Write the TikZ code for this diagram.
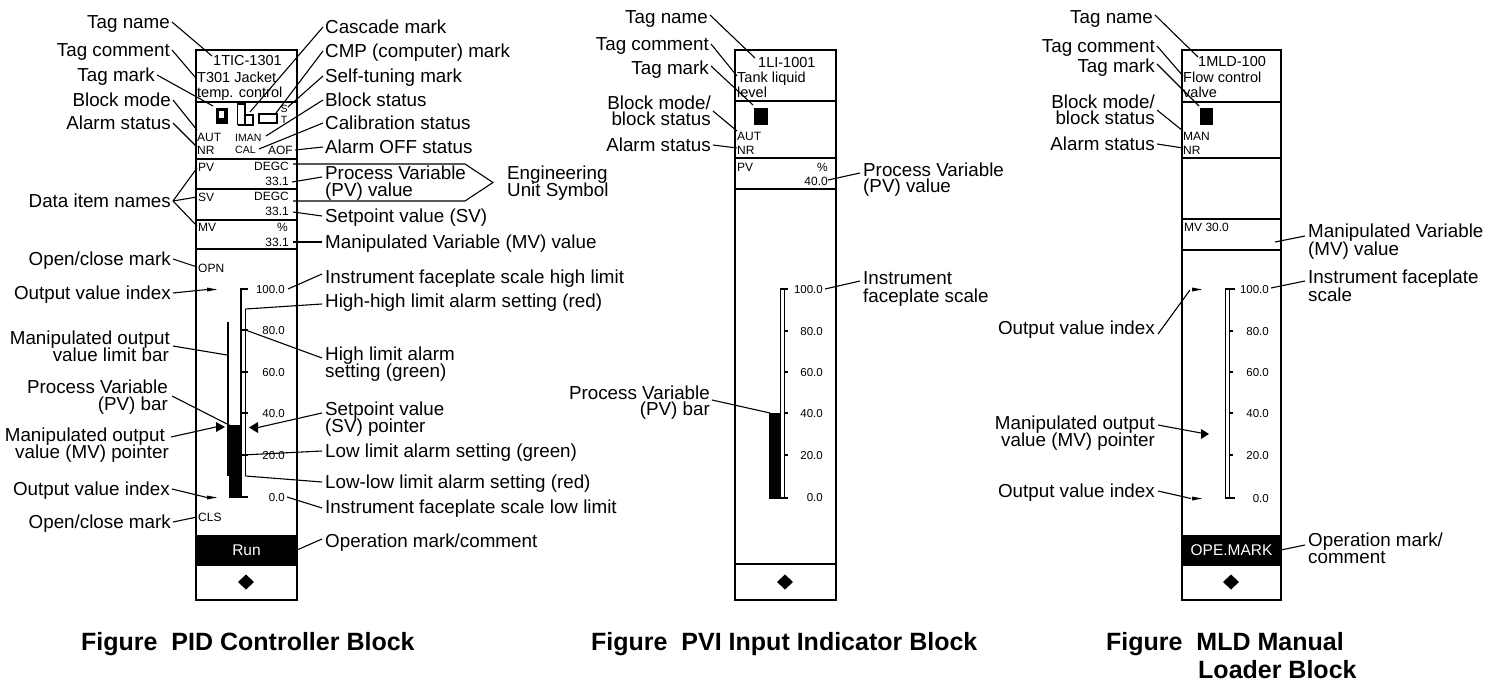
\documentclass[tikz,border=0pt]{standalone}
\usepackage{fontspec}
\setmainfont{Liberation Sans}
\usetikzlibrary{arrows.meta}
\begin{document}
\begin{tikzpicture}[x=1pt,y=-1pt,
  lab/.style={font=\fontsize{18.8}{17}\selectfont, inner sep=0pt, text height=13.5pt, text depth=0pt},
  labL/.style={lab, anchor=west},
  labR/.style={lab, anchor=east},
  hdr/.style={font=\fontsize{14.5}{14}\selectfont, inner sep=0pt, text height=10.4pt, text depth=0pt, anchor=west},
  dat/.style={font=\fontsize{12}{12}\selectfont, inner sep=0pt, text height=8.6pt, text depth=0pt},
  sml/.style={font=\fontsize{10.5}{10}\selectfont, inner sep=0pt, text height=7.5pt, text depth=0pt},
  num/.style={font=\fontsize{11.5}{11}\selectfont, inner sep=0pt, text height=8.3pt, text depth=0pt, anchor=east},
  capt/.style={font=\fontsize{25}{28}\selectfont\bfseries, inner sep=0pt, text height=18pt, text depth=0pt, anchor=west},
  opm/.style={font=\fontsize{15.5}{15}\selectfont, text=white, inner sep=0pt, text height=11.1pt, text depth=0pt},
  lead/.style={line width=1.1pt},
  face/.style={line width=1.8pt},
  divl/.style={line width=1.6pt},
  mk/.style={line width=1.4pt},
]
\useasboundingbox[fill=white] (0,0) rectangle (1497,690);

%================ PID faceplate =================
\draw[face] (196,50) rectangle (297,600);
\foreach \yy in {102,159,189,220,249,565} \draw[divl] (196,\yy) -- (297,\yy);
\fill (196,535) rectangle (297,565);
\node[opm] (pidrun) at (246.5,550) {Run};
\fill (246,574.5) -- (254,582) -- (246,589.5) -- (238,582) -- cycle;
\node[hdr] (pidtag) at (213,60) {1TIC-1301};
\node[hdr] (pidc1) at (197,77) {T301 Jacket};
\node[hdr] (pidc2) at (197,92) {temp. control};
\fill (216,108) rectangle (228,124);
\fill[white] (219,111) rectangle (224,118);
\draw[mk] (237.5,125) -- (237.5,104) -- (245,104) -- (245,125);
\draw[mk] (245,115) rectangle (253,125);
\draw[mk] (237.5,125) -- (253,125);
\draw[mk] (259,114) rectangle (277,123);
\node[sml] (pidS) at (284,109) {S};
\node[sml] (pidT) at (284,120) {T};
\node[dat,anchor=west] (pidaut) at (197,137) {AUT};
\node[dat,anchor=west] (pidnr) at (197,150) {NR};
\node[sml,anchor=west] (pidiman) at (235,138) {IMAN};
\node[sml,anchor=west] (pidcal) at (235,150) {CAL};
\node[dat,anchor=east] (pidaof) at (293,150) {AOF};
\node[dat,anchor=west] (pidpv) at (198,167) {PV};
\node[dat,anchor=east] (pidpvu) at (289,166) {DEGC};
\node[dat,anchor=east] (pidpvv) at (289,181) {33.1};
\node[dat,anchor=west] (pidsv) at (198,197) {SV};
\node[dat,anchor=east] (pidsvu) at (289,196) {DEGC};
\node[dat,anchor=east] (pidsvv) at (289,211) {33.1};
\node[dat,anchor=west] (pidmv) at (198,227) {MV};
\node[dat,anchor=east] (pidmvu) at (288,227) {\%};
\node[dat,anchor=east] (pidmvv) at (289,242) {33.1};
\node[dat,anchor=west] (pidopn) at (198,268) {OPN};
\node[dat,anchor=west] (pidcls) at (198,517) {CLS};
% scale
\draw[line width=2pt] (241,288) -- (241,498);
\foreach \yy in {289,330,372,413,455,497} \draw[line width=1.6pt] (241,\yy) -- (248,\yy);
\draw[line width=1.2pt] (245.5,309) -- (245.5,476);
\draw[line width=2pt] (228,322) -- (228,476);
\fill (229,425) rectangle (242,498);
\foreach \v/\yy in {100.0/289,80.0/330,60.0/372,40.0/413,20.0/455,0.0/497}
  \node[num] (pidsc\yy) at (285,\yy) {\v};
\fill (249,427.5) -- (258,422) -- (258,433) -- cycle;
\fill (225,427) -- (216,422) -- (216,432) -- cycle;
\fill (207,287.5) -- (217,289.5) -- (207,291.5) -- cycle;
\fill (207,495.5) -- (217,497.5) -- (207,499.5) -- cycle;

% PID left labels
\node[labR] (pA1) at (170,22) {Tag name};
\node[labR] (pA2) at (170,50) {Tag comment};
\node[labR] (pA3) at (155,75) {Tag mark};
\node[labR] (pA4) at (171,100) {Block mode};
\node[labR] (pA5) at (171,123) {Alarm status};
\node[labR] (pA6) at (171,201) {Data item names};
\node[labR] (pA7) at (171,259) {Open/close mark};
\node[labR] (pA8) at (171,293) {Output value index};
\node[labR] (pA9a) at (170,338) {Manipulated output};
\node[labR] (pA9b) at (169,355) {value limit bar};
\node[labR] (pA10a) at (168,387) {Process Variable};
\node[labR] (pA10b) at (168,404) {(PV) bar};
\node[labR] (pA11a) at (165,435) {Manipulated output};
\node[labR] (pA11b) at (169,452) {value (MV) pointer};
\node[labR] (pA12) at (170,489) {Output value index};
\node[labR] (pA13) at (171,522) {Open/close mark};
% PID right labels
\node[labL] (pB1) at (325,27) {Cascade mark};
\node[labL] (pB2) at (325,51) {CMP (computer) mark};
\node[labL] (pB3) at (325,76) {Self-tuning mark};
\node[labL] (pB4) at (325,100) {Block status};
\node[labL] (pB5) at (325,123) {Calibration status};
\node[labL] (pB6) at (325,147) {Alarm OFF status};
\node[labL] (pB7a) at (325,173) {Process Variable};
\node[labL] (pB7b) at (325,190) {(PV) value};
\node[labL] (pEa) at (507,173) {Engineering};
\node[labL] (pEb) at (507,190) {Unit Symbol};
\node[labL] (pB8) at (325,216) {Setpoint value (SV)};
\node[labL] (pB9) at (325,242) {Manipulated Variable (MV) value};
\node[labL] (pB10) at (325,277) {Instrument faceplate scale high limit};
\node[labL] (pB11) at (325,301) {High-high limit alarm setting (red)};
\node[labL] (pB12a) at (325,354) {High limit alarm};
\node[labL] (pB12b) at (325,371) {setting (green)};
\node[labL] (pB13a) at (325,409) {Setpoint value};
\node[labL] (pB13b) at (325,426) {(SV) pointer};
\node[labL] (pB14) at (325,451) {Low limit alarm setting (green)};
\node[labL] (pB15) at (325,482) {Low-low limit alarm setting (red)};
\node[labL] (pB16) at (325,507) {Instrument faceplate scale low limit};
\node[labL] (pB17) at (325,541) {Operation mark/comment};

% PID leader coordinates
\coordinate (pe1) at (212,56);
\coordinate (pe2) at (195,77);
\coordinate (pe3) at (213,106);
\coordinate (pe4) at (197,130);
\coordinate (pe5) at (197,147);
\coordinate (pe6a) at (197,168);
\coordinate (pe6b) at (197,197);
\coordinate (pe6c) at (197,226);
\coordinate (pe7) at (197,267);
\coordinate (pe8) at (207,289.5);
\coordinate (ps9) at (173,346);
\coordinate (pe9) at (227,355);
\coordinate (ps10) at (172,396);
\coordinate (pe10) at (231,426);
\coordinate (ps11) at (171,437);
\coordinate (pe11) at (216,427);
\coordinate (pe12) at (207,497.5);
\coordinate (pe13) at (197,517);
\coordinate (qe1) at (250,112);
\coordinate (qe2) at (276,113);
\coordinate (qe3) at (288,107);
\coordinate (qe4) at (266,136);
\coordinate (qe5) at (259,149);
\coordinate (qe6) at (295,150);
\coordinate (qs7) at (322,177);
\coordinate (qe7) at (292,182);
\coordinate (qe8) at (293,212);
\coordinate (qe9) at (293,242);
\coordinate (qe10) at (288,289);
\coordinate (qe11) at (245.5,309);
\coordinate (qs12) at (322,358);
\coordinate (qe12) at (245.5,330);
\coordinate (qs13) at (322,413);
\coordinate (qe13) at (258,427.5);
\coordinate (qe14) at (242,455);
\coordinate (qe15) at (245.5,476);
\coordinate (qe16) at (287,497);
\coordinate (qe17) at (297,550);

\draw[lead] ([xshift=2pt]pA1.east) -- (pe1);
\draw[lead] ([xshift=2pt]pA2.east) -- (pe2);
\draw[lead] ([xshift=2pt]pA3.east) -- (pe3);
\draw[lead] ([xshift=2pt]pA4.east) -- (pe4);
\draw[lead] ([xshift=2pt]pA5.east) -- (pe5);
\draw[lead] ([xshift=2pt]pA6.east) -- (pe6a);
\draw[lead] ([xshift=2pt]pA6.east) -- (pe6b);
\draw[lead] ([xshift=2pt]pA6.east) -- (pe6c);
\draw[lead] ([xshift=2pt]pA7.east) -- (pe7);
\draw[lead] ([xshift=2pt]pA8.east) -- (pe8);
\draw[lead] (ps9) -- (pe9);
\draw[lead] (ps10) -- (pe10);
\draw[lead] (ps11) -- (pe11);
\draw[lead] ([xshift=2pt]pA12.east) -- (pe12);
\draw[lead] ([xshift=2pt]pA13.east) -- (pe13);
\draw[lead] ([xshift=-2pt]pB1.west) -- (qe1);
\draw[lead] ([xshift=-2pt]pB2.west) -- (qe2);
\draw[lead] ([xshift=-2pt]pB3.west) -- (qe3);
\draw[lead] ([xshift=-2pt]pB4.west) -- (qe4);
\draw[lead] ([xshift=-2pt]pB5.west) -- (qe5);
\draw[lead] ([xshift=-2pt]pB6.west) -- (qe6);
\draw[lead] (qs7) -- (qe7);
\draw[lead] ([xshift=-3pt]pB8.west) -- (qe8);
\draw[lead] ([xshift=-3pt]pB9.west) -- (qe9);
\draw[lead] ([xshift=-3pt,yshift=3pt]pB10.west) -- (qe10);
\draw[lead] ([xshift=-3pt,yshift=-3pt]pB11.west) -- (qe11);
\draw[lead] (qs12) -- (qe12);
\draw[lead] (qs13) -- (qe13);
\draw[lead] ([xshift=-3pt]pB14.west) -- (qe14);
\draw[lead] ([xshift=-3pt]pB15.west) -- (qe15);
\draw[lead] ([xshift=-3pt,yshift=-1pt]pB16.west) -- (qe16);
\draw[lead] ([xshift=-3pt,yshift=2pt]pB17.west) -- (qe17);
% pentagon for engineering unit
\coordinate (pg1) at (293,164);
\coordinate (pg2) at (465,164);
\coordinate (pg3) at (493,182.5);
\coordinate (pg4) at (465,201);
\coordinate (pg5) at (293,201);
\draw[lead] (pg1) -- (pg2) -- (pg3) -- (pg4) -- (pg5);

%================ PVI faceplate =================
\draw[face] (735,50) rectangle (836,600);
\foreach \yy in {101,158,189,564} \draw[divl] (735,\yy) -- (836,\yy);
\fill (785,574.5) -- (793,582) -- (785,589.5) -- (777,582) -- cycle;
\node[hdr] (vitag) at (758,62) {1LI-1001};
\node[hdr] (vic1) at (737,77) {Tank liquid};
\node[hdr] (vic2) at (737,92) {level};
\fill (754,108) rectangle (768,125);
\node[dat,anchor=west] (viaut) at (737,136) {AUT};
\node[dat,anchor=west] (vinr) at (737,150) {NR};
\node[dat,anchor=west] (vipv) at (737,167) {PV};
\node[dat,anchor=east] (vipvu) at (828,167) {\%};
\node[dat,anchor=east] (vipvv) at (828,181) {40.0};
\draw[line width=1pt] (780,289) rectangle (784,498);
\draw[line width=1.4pt] (780,289) -- (787.5,289);
\draw[line width=1.4pt] (769,498) -- (787.5,498);
\foreach \yy in {331,372,413,455} \draw[line width=1.4pt] (784,\yy) -- (787.5,\yy);
\fill (769,413) rectangle (781,498);
\foreach \v/\yy in {100.0/289,80.0/331,60.0/372,40.0/413,20.0/455,0.0/497}
  \node[num] (visc\yy) at (823,\yy) {\v};
\node[labR] (vA1) at (708,17) {Tag name};
\node[labR] (vA2) at (709,44) {Tag comment};
\node[labR] (vA3) at (709,68) {Tag mark};
\node[labR] (vA4a) at (711,103) {Block mode/};
\node[labR] (vA4b) at (711,119) {block status};
\node[labR] (vA5) at (711,145) {Alarm status};
\node[labR] (vA6a) at (710,393) {Process Variable};
\node[labR] (vA6b) at (710,409) {(PV) bar};
\node[labL] (vB1a) at (863,170) {Process Variable};
\node[labL] (vB1b) at (863,186) {(PV) value};
\node[labL] (vB2a) at (863,278) {Instrument};
\node[labL] (vB2b) at (863,296) {faceplate scale};
\coordinate (ve1) at (755,58);
\coordinate (ve2) at (737,76);
\coordinate (ve3) at (753,105);
\coordinate (vs4) at (713,111);
\coordinate (ve4) at (737,131);
\coordinate (ve5) at (737,148);
\coordinate (vs6) at (712,400);
\coordinate (ve6) at (770,413);
\coordinate (ws1) at (860,173);
\coordinate (we1) at (828,180);
\coordinate (ws2) at (860,281);
\coordinate (we2) at (825,289);
\draw[lead] ([xshift=2pt,yshift=2pt]vA1.east) -- (ve1);
\draw[lead] ([xshift=2pt]vA2.east) -- (ve2);
\draw[lead] ([xshift=2pt,yshift=2pt]vA3.east) -- (ve3);
\draw[lead] (vs4) -- (ve4);
\draw[lead] ([xshift=2pt]vA5.east) -- (ve5);
\draw[lead] (vs6) -- (ve6);
\draw[lead] (ws1) -- (we1);
\draw[lead] (ws2) -- (we2);

%================ MLD faceplate =================
\draw[face] (1182,50) rectangle (1281,600);
\foreach \yy in {102,158,219,250,565} \draw[divl] (1182,\yy) -- (1281,\yy);
\fill (1182,535) rectangle (1281,565);
\node[opm] (mlope) at (1231.5,550) {OPE.MARK};
\fill (1231,574.5) -- (1239,582) -- (1231,589.5) -- (1223,582) -- cycle;
\node[hdr] (mltag) at (1198,61) {1MLD-100};
\node[hdr] (mlc1) at (1183,77) {Flow control};
\node[hdr] (mlc2) at (1183,92) {valve};
\fill (1200,108) rectangle (1213,125);
\node[dat,anchor=west] (mlman) at (1183,136) {MAN};
\node[dat,anchor=west] (mlnr) at (1183,150) {NR};
\node[dat,anchor=west] (mlmv) at (1184,227) {MV 30.0};
\draw[line width=1pt] (1225,289) rectangle (1229,498);
\draw[line width=1.4pt] (1225,289) -- (1235,289);
\draw[line width=1.4pt] (1225,498) -- (1235,498);
\foreach \yy in {331,372,413,455} \draw[line width=1.4pt] (1229,\yy) -- (1233,\yy);
\foreach \v/\yy in {100.0/289,80.0/331,60.0/372,40.0/413,20.0/455,0.0/498}
  \node[num] (mlsc\yy) at (1269,\yy) {\v};
\fill (1209,434) -- (1201,429) -- (1201,439) -- cycle;
\fill (1192,287.5) -- (1202,289.5) -- (1192,291.5) -- cycle;
\fill (1192,496.5) -- (1202,498.5) -- (1192,500.5) -- cycle;
\node[labR] (mA1) at (1153,17) {Tag name};
\node[labR] (mA2) at (1155,46) {Tag comment};
\node[labR] (mA3) at (1155,66) {Tag mark};
\node[labR] (mA4a) at (1155,102) {Block mode/};
\node[labR] (mA4b) at (1155,118) {block status};
\node[labR] (mA5) at (1155,144) {Alarm status};
\node[labR] (mA6) at (1155,328) {Output value index};
\node[labR] (mA7a) at (1155,423) {Manipulated output};
\node[labR] (mA7b) at (1155,440) {value (MV) pointer};
\node[labR] (mA8) at (1155,491) {Output value index};
\node[labL] (mB1a) at (1308,231) {Manipulated Variable};
\node[labL] (mB1b) at (1308,249) {(MV) value};
\node[labL] (mB2a) at (1308,277) {Instrument faceplate};
\node[labL] (mB2b) at (1308,295) {scale};
\node[labL] (mB3a) at (1308,540) {Operation mark/};
\node[labL] (mB3b) at (1308,557) {comment};
\coordinate (me1) at (1198,57);
\coordinate (me2) at (1183,76);
\coordinate (me3) at (1199,106);
\coordinate (ms4) at (1157,110);
\coordinate (me4) at (1183,131);
\coordinate (me5) at (1183,148);
\coordinate (ms6) at (1158,334);
\coordinate (me6) at (1190,290);
\coordinate (ms7) at (1158,425);
\coordinate (me7) at (1201,433);
\coordinate (me8) at (1191,498.5);
\coordinate (ns1) at (1305,236);
\coordinate (ne1) at (1275,242);
\coordinate (ns2) at (1305,281);
\coordinate (ne2) at (1271,288);
\coordinate (ns3) at (1305,545);
\coordinate (ne3) at (1281,550);
\draw[lead] ([xshift=2pt,yshift=2pt]mA1.east) -- (me1);
\draw[lead] ([xshift=2pt]mA2.east) -- (me2);
\draw[lead] ([xshift=2pt,yshift=2pt]mA3.east) -- (me3);
\draw[lead] (ms4) -- (me4);
\draw[lead] ([xshift=2pt]mA5.east) -- (me5);
\draw[lead] (ms6) -- (me6);
\draw[lead] (ms7) -- (me7);
\draw[lead] ([xshift=3pt]mA8.east) -- (me8);
\draw[lead] (ns1) -- (ne1);
\draw[lead] (ns2) -- (ne2);
\draw[lead] (ns3) -- (ne3);

%================ captions =================
\node[capt] (cap1) at (81,641) {Figure\ \ PID Controller Block};
\node[capt] (cap2) at (591,641) {Figure\ \ PVI Input Indicator Block};
\node[capt] (cap3a) at (1106,641) {Figure\ \ MLD Manual};
\node[capt] (cap3b) at (1198,669) {Loader Block};
\end{tikzpicture}
\end{document}
